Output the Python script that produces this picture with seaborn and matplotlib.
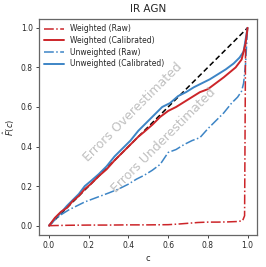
import numpy as np
import pandas as pd
import matplotlib
matplotlib.use("Agg")
import matplotlib.pyplot as plt
import seaborn as sns

title = "IR AGN"
series_names = ["Weighted (Raw)", "Weighted (Calibrated)", "Unweighted (Raw)", "Unweighted (Calibrated)"]

w_raw_x = [0.0, 0.1, 0.2, 0.3, 0.4, 0.5, 0.6, 0.65, 0.7, 0.75, 0.8, 0.85, 0.9, 0.95, 0.975, 0.985, 0.99]
w_raw_y = [0.0, 0.002, 0.003, 0.003, 0.004, 0.004, 0.005, 0.008, 0.012, 0.016, 0.018, 0.018, 0.019, 0.021, 0.025, 0.05, 0.93]

w_cal_x = [0.0, 0.03, 0.06, 0.09, 0.12, 0.15, 0.18, 0.21, 0.25, 0.29, 0.33, 0.37, 0.41, 0.45, 0.48, 0.52, 0.56, 0.6, 0.64, 0.68, 0.72, 0.76, 0.8, 0.84, 0.88, 0.91, 0.94, 0.97, 0.99, 1.0]
w_cal_y = [0.0, 0.04, 0.07, 0.09, 0.125, 0.15, 0.185, 0.21, 0.25, 0.285, 0.33, 0.37, 0.41, 0.45, 0.475, 0.51, 0.55, 0.58, 0.6, 0.625, 0.65, 0.675, 0.69, 0.72, 0.75, 0.775, 0.8, 0.84, 0.92, 1.0]

u_raw_x = [0.0, 0.03, 0.06, 0.1, 0.14, 0.18, 0.22, 0.26, 0.3, 0.35, 0.4, 0.44, 0.48, 0.52, 0.56, 0.6, 0.64, 0.68, 0.72, 0.76, 0.8, 0.84, 0.88, 0.92, 0.95, 0.97, 0.98, 0.99, 1.0]
u_raw_y = [0.0, 0.03, 0.055, 0.08, 0.1, 0.12, 0.135, 0.15, 0.165, 0.185, 0.21, 0.235, 0.255, 0.28, 0.31, 0.37, 0.385, 0.41, 0.43, 0.445, 0.49, 0.53, 0.57, 0.62, 0.65, 0.68, 0.72, 0.82, 1.0]

u_cal_x = [0.0, 0.03, 0.06, 0.09, 0.12, 0.15, 0.18, 0.21, 0.25, 0.29, 0.33, 0.37, 0.41, 0.45, 0.49, 0.53, 0.57, 0.61, 0.65, 0.69, 0.73, 0.77, 0.81, 0.85, 0.89, 0.93, 0.96, 0.98, 1.0]
u_cal_y = [0.0, 0.035, 0.065, 0.1, 0.13, 0.16, 0.2, 0.225, 0.26, 0.3, 0.35, 0.39, 0.43, 0.48, 0.52, 0.56, 0.6, 0.62, 0.655, 0.675, 0.7, 0.72, 0.74, 0.765, 0.79, 0.82, 0.85, 0.88, 1.0]

ideal = [0.0, 1.0]

sns.set_style("ticks")
plt.rcParams['font.family'] = ['DejaVu Sans']

fig, ax = plt.subplots(figsize=(2.66, 2.67), dpi=100)
fig.subplots_adjust(left=0.147, right=0.968, bottom=0.12, top=0.929)

red = "#cc2529"
blue = "#3d85c6"

sns.lineplot(x=ideal, y=ideal, ax=ax, color="black", lw=1.1, linestyle=(0, (3.5, 2)), zorder=1)
sns.lineplot(x=w_raw_x, y=w_raw_y, ax=ax, color=red, lw=1.1, linestyle="-.", label=series_names[0], zorder=3)
sns.lineplot(x=w_cal_x, y=w_cal_y, ax=ax, color=red, lw=1.4, linestyle="-", label=series_names[1], zorder=3)
sns.lineplot(x=u_raw_x, y=u_raw_y, ax=ax, color=blue, lw=1.1, linestyle="-.", label=series_names[2], zorder=2)
sns.lineplot(x=u_cal_x, y=u_cal_y, ax=ax, color=blue, lw=1.4, linestyle="-", label=series_names[3], zorder=2)

ax.text(0.42, 0.575, "Errors Overestimated", rotation=45, ha="center", va="center",
        fontsize=9, color="#b0b0b0", alpha=0.8, rotation_mode="anchor")
ax.text(0.575, 0.43, "Errors Underestimated", rotation=45, ha="center", va="center",
        fontsize=9, color="#b0b0b0", alpha=0.8, rotation_mode="anchor")

ax.set_xlim(-0.05, 1.05)
ax.set_ylim(-0.047, 1.045)
ax.set_xticks([0.0, 0.2, 0.4, 0.6, 0.8, 1.0])
ax.set_yticks([0.0, 0.2, 0.4, 0.6, 0.8, 1.0])
ax.tick_params(labelsize=5.5, length=2.5, width=0.6, pad=2, colors="0.15")
for s in ax.spines.values():
    s.set_color("0.4")
    s.set_linewidth(0.9)
ax.set_xlabel("c", fontsize=6, labelpad=3)
ax.set_ylabel(r"$\hat{F}(c)$", fontsize=6, labelpad=3)
ax.set_title(title, fontsize=7.5, pad=5)
ax.legend(loc="upper left", frameon=False, fontsize=5.5, handlelength=2.6,
          borderaxespad=0.3, labelspacing=0.35)

fig.savefig("out.png", dpi=100)
